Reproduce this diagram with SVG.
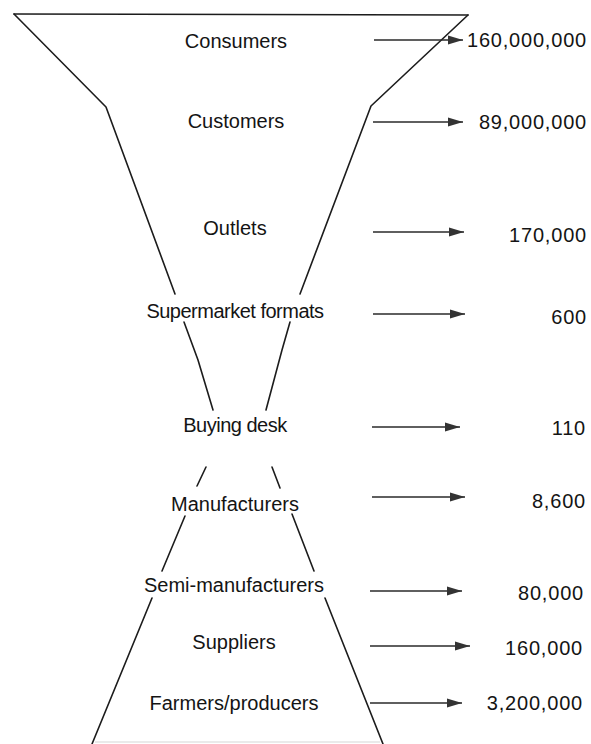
<svg xmlns="http://www.w3.org/2000/svg" width="591" height="744" viewBox="0 0 591 744">
  <style>
    .funnel { fill: none; stroke: #1c1c1c; stroke-width: 1.6; stroke-linecap: round; stroke-linejoin: round; }
    .label { font-family: "Liberation Sans", Arial, sans-serif; font-size: 20px; fill: #141414; text-anchor: middle; }
    .tight { letter-spacing: -0.5px; }
    .num { font-family: "Liberation Sans", Arial, sans-serif; font-size: 20px; fill: #141414; text-anchor: end; letter-spacing: 0.8px; }
    .arrow { stroke: #2a2a2a; stroke-width: 1.3; fill: none; marker-end: url(#head); }
  </style>
  <defs>
    <marker id="head" viewBox="0 0 15 10" refX="15" refY="5" markerWidth="15" markerHeight="10" markerUnits="userSpaceOnUse" orient="auto">
      <path d="M0,0.5 L15,5 L0,9.5 Z" fill="#333"/>
    </marker>
  </defs>
  <rect width="591" height="744" fill="#ffffff"/>

  <!-- funnel outline -->
  <g id="funnel-outline">
    <path class="funnel" d="M14,14 L468,15"/>
    <path class="funnel" d="M14,14 L106,107 L175,294"/>
    <path class="funnel" d="M468,15 L371,106 L300,294"/>
    <path class="funnel" d="M184,322 L198,360 L213,410"/>
    <path class="funnel" d="M290,322 L282,350 L266,410"/>
    <path class="funnel" d="M206,467 L197,486"/>
    <path class="funnel" d="M272,467 L280,488"/>
    <path class="funnel" d="M185,516 L162,571"/>
    <path class="funnel" d="M292,514 L314,571"/>
    <path class="funnel" d="M152,598 L92,744"/>
    <path class="funnel" d="M325,598 L383,744"/>
    <path d="M95,742 L380,742" stroke="#d6d6d6" stroke-width="1.2" fill="none"/>
  </g>

  <!-- stage nodes -->
  <g id="consumers"><text class="label" x="236" y="48">Consumers</text><text class="num" x="587" y="47">160,000,000</text></g>
  <g id="customers"><text class="label" x="236" y="128">Customers</text><text class="num" x="587" y="129">89,000,000</text></g>
  <g id="outlets"><text class="label" x="235" y="235">Outlets</text><text class="num" x="587" y="242">170,000</text></g>
  <g id="supermarket-formats"><text class="label tight" x="235" y="318">Supermarket formats</text><text class="num" x="587" y="324">600</text></g>
  <g id="buying-desk"><text class="label tight" x="235" y="432">Buying desk</text><text class="num" x="586" y="435">110</text></g>
  <g id="manufacturers"><text class="label" x="235" y="511">Manufacturers</text><text class="num" x="586" y="508">8,600</text></g>
  <g id="semi-manufacturers"><text class="label" x="234" y="592">Semi-manufacturers</text><text class="num" x="584" y="600">80,000</text></g>
  <g id="suppliers"><text class="label" x="234" y="649">Suppliers</text><text class="num" x="583" y="655">160,000</text></g>
  <g id="farmers-producers"><text class="label" x="234" y="710">Farmers/producers</text><text class="num" x="583" y="710">3,200,000</text></g>

  <!-- connectors -->
  <g id="connectors">
    <line class="arrow" x1="374" y1="40" x2="463" y2="40"/>
    <line class="arrow" x1="373" y1="122" x2="463" y2="122"/>
    <line class="arrow" x1="373" y1="232" x2="464" y2="232"/>
    <line class="arrow" x1="373" y1="314" x2="465" y2="314"/>
    <line class="arrow" x1="372" y1="427" x2="460" y2="427"/>
    <line class="arrow" x1="372" y1="497" x2="465" y2="497"/>
    <line class="arrow" x1="370" y1="591" x2="462" y2="591"/>
    <line class="arrow" x1="370" y1="646" x2="470" y2="646"/>
    <line class="arrow" x1="370" y1="703" x2="462" y2="703"/>
  </g>
</svg>
